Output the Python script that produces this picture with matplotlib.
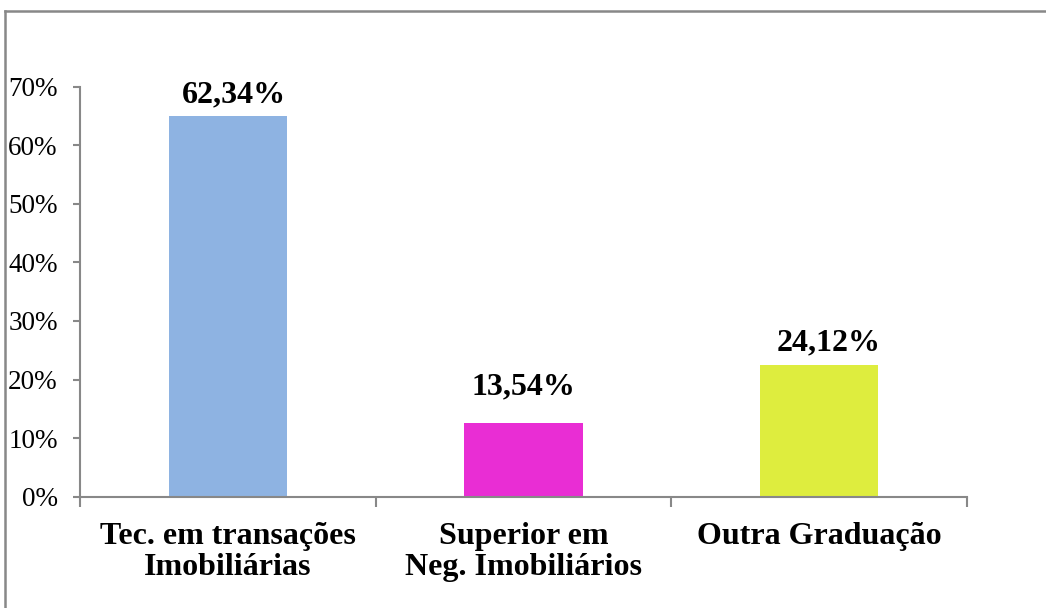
import matplotlib
matplotlib.use("Agg")
import matplotlib.pyplot as plt
from matplotlib.lines import Line2D
from matplotlib.ticker import FuncFormatter

# dados
categorias = ["Tec. em transações\nImobiliárias", "Superior em\nNeg. Imobiliários", "Outra Graduação"]
alturas = [65.0, 12.6, 22.5]          # altura desenhada das barras (%)
rotulos = ["62,34%", "13,54%", "24,12%"]
cores = ["#8EB3E2", "#E92DD4", "#DEED3E"]
yticks = [0, 10, 20, 30, 40, 50, 60, 70]

plt.rcParams["font.family"] = ["Liberation Serif", "DejaVu Serif"]
cinza = "#888888"

fig = plt.figure(figsize=(10.46, 6.08), dpi=100)
ax = fig.add_axes([80 / 1046, 1 - 496.7 / 608, 887 / 1046, 410 / 608])

x = range(len(categorias))
barras = ax.bar(x, alturas, width=0.40, color=cores, zorder=2)

# rótulos dos valores (deslocamento em pixels acima da barra)
desloc = [(6, 14), (0, 28), (9, 15)]
for b, txt, (dx, dy) in zip(barras, rotulos, desloc):
    ax.annotate(txt, (b.get_x() + b.get_width() / 2, b.get_height()),
                xytext=(dx, dy), textcoords="offset pixels",
                ha="center", va="baseline", fontsize=23, fontweight="bold")

ax.set_xlim(-0.5, 2.5)
ax.set_ylim(0, 70)
ax.set_yticks(yticks)
ax.yaxis.set_major_formatter(FuncFormatter(lambda v, p: f"{v:.0f}%"))

ax.set_xticks(list(x))
ax.set_xticklabels(categorias, fontsize=23, fontweight="bold", linespacing=1.12)
ax.set_xticks([-0.5, 0.5, 1.5, 2.5], minor=True)
ax.tick_params(axis="x", which="major", length=0, pad=18)
ax.tick_params(axis="x", which="minor", length=7, width=1.5, color=cinza, direction="out")
ax.tick_params(axis="y", length=5, width=1.5, color=cinza, direction="out",
               labelsize=19.5, pad=11)

for s in ["top", "right"]:
    ax.spines[s].set_visible(False)
for s in ["left", "bottom"]:
    ax.spines[s].set_color(cinza)
    ax.spines[s].set_linewidth(1.5)

# moldura externa do gráfico
fig.add_artist(Line2D([5 / 1046, 5 / 1046], [0, 1 - 10.5 / 608], color=cinza, lw=1.8))
fig.add_artist(Line2D([5 / 1046, 1], [1 - 10.5 / 608, 1 - 10.5 / 608], color=cinza, lw=1.8))

fig.savefig("out.png", dpi=100)
